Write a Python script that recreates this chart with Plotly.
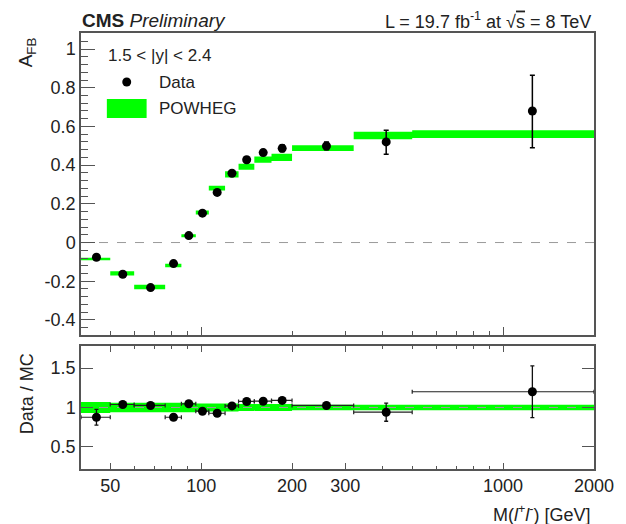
import math
import plotly.graph_objects as go

# Dilepton mass binning [GeV]
bin_lo = [40, 50, 60, 76, 86, 96, 106, 120, 133, 150, 171, 200, 320, 500]
bin_hi = [50, 60, 76, 86, 96, 106, 120, 133, 150, 171, 200, 320, 500, 2000]
bin_center = [45, 55, 68, 81, 91, 101, 113, 126.5, 141.5, 160.5, 185.5, 260, 410, 1250]

# Measured forward-backward asymmetry, 1.5 < |y| < 2.4
afb_data = [-0.076, -0.164, -0.233, -0.109, 0.036, 0.152, 0.259, 0.358,
            0.428, 0.465, 0.487, 0.499, 0.520, 0.680]
afb_err_up = [0.012, 0.010, 0.010, 0.010, 0.010, 0.010, 0.012, 0.012,
              0.014, 0.015, 0.018, 0.020, 0.060, 0.185]
afb_err_dn = [0.012, 0.010, 0.010, 0.010, 0.010, 0.010, 0.012, 0.012,
              0.014, 0.015, 0.018, 0.020, 0.064, 0.190]

# POWHEG prediction and its uncertainty (half width)
afb_mc = [-0.085, -0.159, -0.230, -0.119, 0.035, 0.155, 0.281, 0.352,
          0.392, 0.429, 0.440, 0.488, 0.553, 0.560]
afb_mc_err = [0.007, 0.011, 0.012, 0.009, 0.008, 0.010, 0.012, 0.016,
              0.0155, 0.016, 0.019, 0.015, 0.019, 0.020]

# Data / MC ratio
ratio = [0.876, 1.038, 1.026, 0.876, 1.047, 0.953, 0.927, 1.020,
         1.077, 1.080, 1.090, 1.026, 0.940, 1.200]
ratio_err = [0.10, 0.03, 0.025, 0.03, 0.03, 0.03, 0.03, 0.03,
             0.03, 0.03, 0.035, 0.035, 0.115, 0.33]
ratio_band = [0.07, 0.06, 0.06, 0.06, 0.06, 0.05, 0.05, 0.05,
              0.045, 0.045, 0.045, 0.035, 0.035, 0.035]

# axis ticks
afb_ticks = [-0.4, -0.2, 0, 0.2, 0.4, 0.6, 0.8, 1.0]
afb_ticktext = ["-0.4", "-0.2", "0", "0.2", "0.4", "0.6", "0.8", "1"]
afb_minor = [round(-0.44 + 0.04 * i, 2) for i in range(38)]
mass_ticks = [50, 100, 200, 300, 1000, 2000]
mass_ticktext = ["50", "100", "200", "300", "1000", "2000"]

x_min, x_max = bin_lo[0], bin_hi[-1]

GREEN = "#00ff00"
AXIS = "#555555"
FONT = "Liberation Sans, Arial, Helvetica, sans-serif"


def band_polygons(lo, hi, center, half):
    xs, ys = [], []
    for a, b, c, e in zip(lo, hi, center, half):
        xs += [a, b, b, a, a, None]
        ys += [c - e, c - e, c + e, c + e, c - e, None]
    return xs, ys


fig = go.Figure()

# --- upper panel ---
bx, by = band_polygons(bin_lo, bin_hi, afb_mc, afb_mc_err)
fig.add_trace(go.Scatter(x=bx, y=by, mode="lines", fill="toself",
                         fillcolor=GREEN, line=dict(width=0),
                         hoverinfo="skip", xaxis="x", yaxis="y"))
fig.add_trace(go.Scatter(
    x=bin_center, y=afb_data, mode="markers",
    marker=dict(color="black", size=9, symbol="circle"),
    error_y=dict(type="data", array=afb_err_up, arrayminus=afb_err_dn,
                 color="black", thickness=1.5, width=2.5),
    xaxis="x", yaxis="y"))

# --- ratio panel ---
rx, ry = band_polygons(bin_lo, bin_hi, [1.0] * len(bin_lo), ratio_band)
fig.add_trace(go.Scatter(x=rx, y=ry, mode="lines", fill="toself",
                         fillcolor=GREEN, line=dict(width=0),
                         hoverinfo="skip", xaxis="x2", yaxis="y2"))
fig.add_trace(go.Scatter(x=[x_min, x_max], y=[1, 1], mode="lines",
                         line=dict(color="#9a9a9a", width=1, dash="dash"),
                         hoverinfo="skip", xaxis="x2", yaxis="y2"))
fig.add_trace(go.Scatter(
    x=bin_center, y=ratio, mode="markers",
    marker=dict(color="black", size=9, symbol="circle"),
    error_y=dict(type="data", array=ratio_err, color="#111111",
                 thickness=1.3, width=2),
    error_x=dict(type="data",
                 array=[h - c for h, c in zip(bin_hi, bin_center)],
                 arrayminus=[c - l for c, l in zip(bin_center, bin_lo)],
                 color="#222222", thickness=1.2, width=2),
    xaxis="x2", yaxis="y2"))

xrange_log = [math.log10(x_min), math.log10(x_max)]
minor_x = [40, 60, 70, 80, 90, 400, 500, 600, 700, 800, 900]

common_axis = dict(showline=True, linecolor=AXIS, linewidth=1.5,
                   showgrid=False, zeroline=False, tickcolor=AXIS,
                   tickwidth=1.2, ticks="inside",
                   tickfont=dict(family=FONT, size=18, color="#222"))

fig.update_layout(
    width=626, height=524,
    margin=dict(l=81, r=29, t=33, b=55),
    paper_bgcolor="white", plot_bgcolor="white",
    showlegend=False,
    font=dict(family=FONT, size=17, color="#222"),
    xaxis=dict(common_axis, type="log", range=xrange_log, domain=[0, 1],
               anchor="y", showticklabels=False, mirror=True,
               tickmode="array", tickvals=[100, 1000], ticklen=8,
               minor=dict(tickmode="array",
                          tickvals=[40, 50, 60, 70, 80, 90, 200, 300, 400,
                                    500, 600, 700, 800, 900],
                          ticks="inside", ticklen=4, tickcolor=AXIS,
                          tickwidth=1.2)),
    yaxis=dict(common_axis, range=[-0.478, 1.083], domain=[0.3073, 1],
               anchor="x", mirror=True, tickmode="array",
               tickvals=afb_ticks, ticktext=afb_ticktext, ticklen=14,
               minor=dict(tickmode="array", tickvals=afb_minor,
                          ticks="inside", ticklen=7, tickcolor=AXIS,
                          tickwidth=1.2)),
    xaxis2=dict(common_axis, type="log", range=xrange_log, domain=[0, 1],
                anchor="y2", matches="x", mirror="ticks",
                tickmode="array", tickvals=mass_ticks,
                ticktext=mass_ticktext, ticklen=6,
                minor=dict(tickmode="array", tickvals=minor_x,
                           ticks="inside", ticklen=3.5, tickcolor=AXIS,
                           tickwidth=1.2)),
    yaxis2=dict(common_axis, range=[0.218, 1.782], domain=[0, 0.2821],
                anchor="x2", mirror="ticks", tickmode="array",
                tickvals=[0.5, 1.0, 1.5], ticktext=["0.5", "1", "1.5"],
                ticklen=12),
)

# zero reference line in the upper panel
fig.add_shape(type="line", xref="x domain", x0=0, x1=1, yref="y", y0=0, y1=0,
              line=dict(color="#9a9a9a", width=1, dash="dash"), layer="below")

W, H = 516.0, 436.0  # plot area size in px


def px(xp):
    return (xp - 81) / W


def py(yp):
    return (469 - yp) / H


ann = [
    dict(text="<b>CMS</b> <i>Preliminary</i>", x=px(80), y=py(21),
         xanchor="left", yanchor="middle", font=dict(size=19)),
    dict(text="L = 19.7 fb<sup>-1</sup> at √<span style='text-decoration:overline'>s</span> = 8 TeV",
         x=px(596), y=py(20), xanchor="right", yanchor="middle",
         font=dict(size=18)),
    dict(text="A<sub>FB</sub>", x=px(27), y=py(52), textangle=-90,
         xanchor="center", yanchor="middle", font=dict(size=19)),
    dict(text="Data / MC", x=px(27), y=py(394), textangle=-90,
         xanchor="center", yanchor="middle", font=dict(size=18)),
    dict(text="M(<i>l</i><sup>+</sup><i>l</i><sup>-</sup>) [GeV]",
         x=px(596), y=py(513), xanchor="right", yanchor="middle",
         font=dict(size=18)),
    dict(text="1.5 &lt; |y| &lt; 2.4", x=px(106), y=py(55),
         xanchor="left", yanchor="middle", font=dict(size=17)),
    dict(text="Data", x=px(157), y=py(82), xanchor="left", yanchor="middle",
         font=dict(size=17)),
    dict(text="POWHEG", x=px(157), y=py(108), xanchor="left",
         yanchor="middle", font=dict(size=17)),
]
for a in ann:
    a.update(xref="paper", yref="paper", showarrow=False)
fig.update_layout(annotations=ann)

# legend symbols
r = 4.5
fig.add_shape(type="circle", xref="paper", yref="paper",
              x0=px(127 - r), x1=px(127 + r), y0=py(82 + r), y1=py(82 - r),
              fillcolor="black", line=dict(width=0))
fig.add_shape(type="rect", xref="paper", yref="paper",
              x0=px(107), x1=px(147), y0=py(118), y1=py(99),
              fillcolor=GREEN, line=dict(width=0))

fig.write_html("out.html")
